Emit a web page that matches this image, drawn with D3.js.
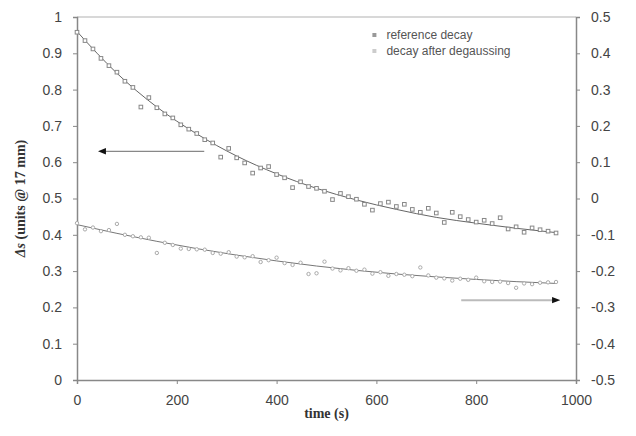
<!DOCTYPE html>
<html>
<head>
<meta charset="utf-8">
<script src="https://cdn.jsdelivr.net/npm/d3@7"></script>
<style>
  body { margin: 0; background: #fff; }
  svg { display: block; }
</style>
</head>
<body>
<div id="chart"></div>
<script>
// sample times (s), one reading every 16 s
var times = d3.range(0, 961, 16);

// reference decay, left axis
var refDecay = [0.958, 0.935, 0.912, 0.886, 0.866, 0.848, 0.823, 0.806, 0.752, 0.778,
  0.750, 0.733, 0.722, 0.703, 0.691, 0.679, 0.662, 0.653, 0.614, 0.638,
  0.612, 0.598, 0.570, 0.584, 0.588, 0.566, 0.557, 0.530, 0.546, 0.533,
  0.528, 0.520, 0.497, 0.514, 0.505, 0.498, 0.484, 0.468, 0.486, 0.490,
  0.478, 0.484, 0.470, 0.462, 0.473, 0.460, 0.434, 0.462, 0.450, 0.442,
  0.435, 0.440, 0.431, 0.447, 0.416, 0.422, 0.407, 0.419, 0.414, 0.410, 0.405];

// decay after degaussing, right axis
var degaussDecay = [-0.068, -0.085, -0.080, -0.090, -0.087, -0.070, -0.100, -0.104, -0.107, -0.108,
  -0.150, -0.122, -0.128, -0.138, -0.139, -0.140, -0.141, -0.150, -0.152, -0.148,
  -0.160, -0.162, -0.159, -0.175, -0.170, -0.163, -0.178, -0.183, -0.177, -0.208,
  -0.206, -0.174, -0.193, -0.198, -0.192, -0.199, -0.196, -0.207, -0.203, -0.213,
  -0.208, -0.210, -0.214, -0.190, -0.212, -0.218, -0.220, -0.226, -0.221, -0.224,
  -0.218, -0.228, -0.230, -0.229, -0.233, -0.246, -0.234, -0.236, -0.232, -0.231, -0.230];

// fitted trend lines
var fitTimes = [0, 80, 160, 240, 320, 400, 480, 560, 640, 720, 800, 880, 960];
var refFit = [0.960, 0.845, 0.752, 0.678, 0.617, 0.568, 0.528, 0.496, 0.470, 0.448, 0.432, 0.418, 0.406];
var degaussFit = [-0.072, -0.096, -0.118, -0.138, -0.156, -0.172, -0.186, -0.198, -0.208, -0.216, -0.223, -0.229, -0.234];

var xTicks = [0, 200, 400, 600, 800, 1000];
var leftTicks = [0, 0.1, 0.2, 0.3, 0.4, 0.5, 0.6, 0.7, 0.8, 0.9, 1];
var rightTicks = [-0.5, -0.4, -0.3, -0.2, -0.1, 0, 0.1, 0.2, 0.3, 0.4, 0.5];
var seriesNames = ["reference decay", "decay after degaussing"];

var margin = { top: 17, right: 60, bottom: 56, left: 77 };
var width = 636 - margin.left - margin.right;
var height = 436 - margin.top - margin.bottom;

var xScale = d3.scaleLinear().domain([0, 1000]).range([0, width]);
var yLeft = d3.scaleLinear().domain([0, 1]).range([height, 0]);
var yRight = d3.scaleLinear().domain([-0.5, 0.5]).range([height, 0]);

var svg = d3.select("#chart").append("svg")
  .attr("width", 636)
  .attr("height", 436)
  .style("font-family", "'Liberation Sans', Arial, sans-serif");

var g = svg.append("g")
  .attr("transform", "translate(" + margin.left + "," + margin.top + ")");

// light frame line on top
g.append("line")
  .attr("x1", 0).attr("x2", width)
  .attr("y1", 0).attr("y2", 0)
  .attr("stroke", "#d8d8d8").attr("stroke-width", 2);

// plain hyphen for negatives, like the original
var fmt = function (d) { return String(+d.toFixed(1)); };

var xAxis = g.append("g")
  .attr("transform", "translate(0," + height + ")")
  .call(d3.axisBottom(xScale).tickValues(xTicks).tickSize(4).tickPadding(11).tickFormat(function (d) { return String(d); }));

var leftAxis = g.append("g")
  .call(d3.axisLeft(yLeft).tickValues(leftTicks).tickSize(4).tickPadding(11).tickFormat(fmt));

var rightAxis = g.append("g")
  .attr("transform", "translate(" + width + ",0)")
  .call(d3.axisRight(yRight).tickValues(rightTicks).tickSize(4).tickPadding(11).tickFormat(fmt));

[xAxis, leftAxis, rightAxis].forEach(function (a) {
  a.select(".domain").attr("stroke", "#888").attr("stroke-width", 1.5);
  a.selectAll(".tick line").attr("stroke", "#888");
  a.selectAll(".tick text").attr("fill", "#444").style("font-size", "14px")
    .style("font-family", "'Liberation Sans', Arial, sans-serif");
});

// axis titles
svg.append("text")
  .attr("x", margin.left + width / 2)
  .attr("y", 418)
  .attr("text-anchor", "middle")
  .style("font-family", "'Liberation Serif', 'Times New Roman', serif")
  .style("font-weight", "bold")
  .style("font-size", "14px")
  .attr("fill", "#333")
  .text("time (s)");

var yTitle = svg.append("text")
  .attr("transform", "translate(25," + (margin.top + height / 2) + ") rotate(-90)")
  .attr("text-anchor", "middle")
  .style("font-family", "'Liberation Serif', 'Times New Roman', serif")
  .style("font-weight", "bold")
  .style("font-size", "14px")
  .attr("fill", "#333");
yTitle.append("tspan").style("font-style", "italic").text("Δs");
yTitle.append("tspan").text(" (units @ 17 mm)");

// trend lines
var fitLineLeft = d3.line()
  .x(function (d, i) { return xScale(fitTimes[i]); })
  .y(function (d) { return yLeft(d); })
  .curve(d3.curveMonotoneX);

var fitLineRight = d3.line()
  .x(function (d, i) { return xScale(fitTimes[i]); })
  .y(function (d) { return yRight(d); })
  .curve(d3.curveMonotoneX);

g.append("path").datum(refFit)
  .attr("d", fitLineLeft)
  .attr("fill", "none").attr("stroke", "#666").attr("stroke-width", 1);

g.append("path").datum(degaussFit)
  .attr("d", fitLineRight)
  .attr("fill", "none").attr("stroke", "#777").attr("stroke-width", 1);

// data points
g.selectAll(".ref")
  .data(refDecay)
  .enter().append("rect")
  .attr("class", "ref")
  .attr("x", function (d, i) { return xScale(times[i]) - 1.8; })
  .attr("y", function (d) { return yLeft(d) - 1.8; })
  .attr("width", 3.6).attr("height", 3.6)
  .attr("fill", "#fff").attr("stroke", "#888").attr("stroke-width", 1);

g.selectAll(".deg")
  .data(degaussDecay)
  .enter().append("circle")
  .attr("class", "deg")
  .attr("cx", function (d, i) { return xScale(times[i]); })
  .attr("cy", function (d) { return yRight(d); })
  .attr("r", 1.7)
  .attr("fill", "#fff").attr("stroke", "#aaa").attr("stroke-width", 1);

// arrows pointing to each series' axis
var defs = svg.append("defs");
defs.append("marker")
  .attr("id", "head")
  .attr("viewBox", "0 0 10 10")
  .attr("refX", 5).attr("refY", 5)
  .attr("markerUnits", "userSpaceOnUse")
  .attr("markerWidth", 8).attr("markerHeight", 8)
  .attr("orient", "auto")
  .append("path").attr("d", "M0,1 L10,5 L0,9 z").attr("fill", "#111");

g.append("line")
  .attr("x1", xScale(255)).attr("x2", xScale(50))
  .attr("y1", yLeft(0.63)).attr("y2", yLeft(0.63))
  .attr("stroke", "#888").attr("stroke-width", 1.2)
  .attr("marker-end", "url(#head)");

g.append("line")
  .attr("x1", xScale(770)).attr("x2", xScale(960))
  .attr("y1", yRight(-0.28)).attr("y2", yRight(-0.28))
  .attr("stroke", "#bbb").attr("stroke-width", 2)
  .attr("marker-end", "url(#head)");

// legend
var legend = g.append("g").attr("transform", "translate(" + (xScale(600) - 2) + ",18)");
seriesNames.forEach(function (name, i) {
  var row = legend.append("g").attr("transform", "translate(0," + (i * 16) + ")");
  row.append("rect")
    .attr("x", -2).attr("y", -2).attr("width", 4).attr("height", 4)
    .attr("fill", i === 0 ? "#999" : "#ccc");
  row.append("text")
    .attr("x", 12).attr("y", 4)
    .style("font-size", "12px")
    .attr("fill", "#555")
    .text(name);
});
</script>
</body>
</html>
